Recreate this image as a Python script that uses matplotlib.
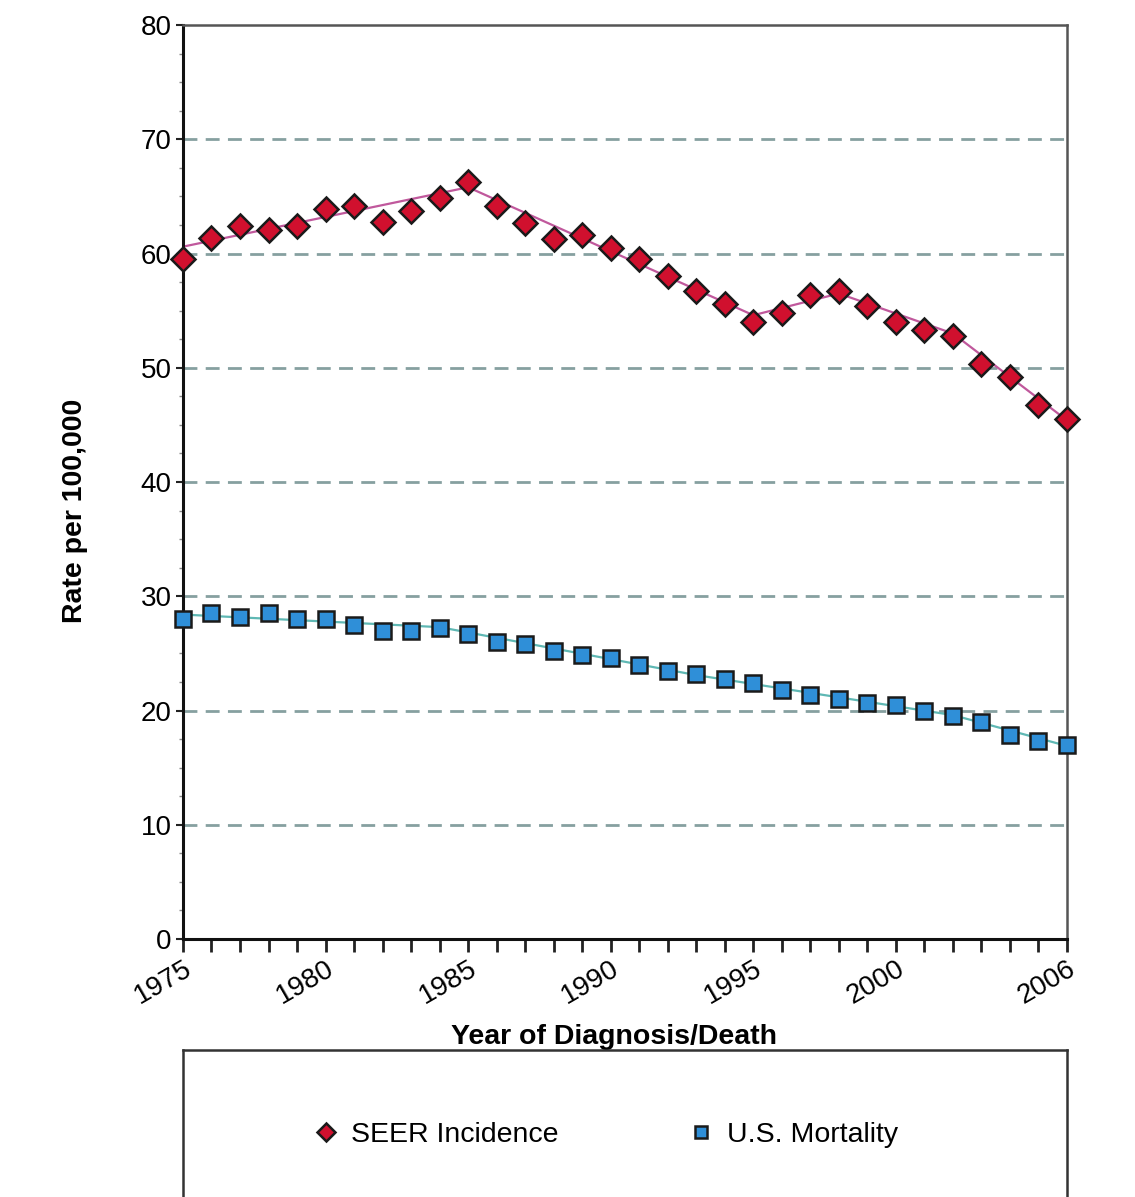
import numpy as np
import matplotlib.pyplot as plt
from matplotlib.ticker import MultipleLocator, FixedLocator, FixedFormatter

plt.rcParams['font.family'] = ['Liberation Sans', 'DejaVu Sans']

YEARS = list(range(1975, 2007))

# Observed rates per 100,000
SEER_INCIDENCE = [59.5, 61.4, 62.4, 62.1, 62.4, 63.9, 64.2, 62.8, 63.7, 64.9,
                  66.3, 64.2, 62.7, 61.3, 61.6, 60.5, 59.5, 58.0, 56.7, 55.6,
                  54.0, 54.8, 56.4, 56.7, 55.4, 54.0, 53.3, 52.8, 50.3, 49.2,
                  46.7, 45.5]
US_MORTALITY = [28.0, 28.5, 28.2, 28.5, 28.0, 28.0, 27.5, 27.0, 27.0, 27.2,
                26.7, 26.0, 25.8, 25.2, 24.9, 24.6, 24.0, 23.5, 23.2, 22.8,
                22.4, 21.8, 21.4, 21.0, 20.7, 20.5, 20.0, 19.5, 19.0, 17.9,
                17.3, 17.0]

# Joinpoint trend lines (year, fitted rate)
INC_TREND_YEARS = [1975, 1985, 1995, 1998, 2002, 2006]
INC_TREND_RATES = [60.6, 65.8, 54.6, 56.5, 53.0, 45.4]
MORT_TREND_YEARS = [1975, 1984, 1993, 2002, 2006]
MORT_TREND_RATES = [28.4, 27.3, 23.1, 19.6, 16.9]

LABELED_YEARS = [1975, 1980, 1985, 1990, 1995, 2000, 2006]

fig = plt.figure(figsize=(11.35, 11.97), dpi=100)
ax = fig.add_axes([0.1612, 0.2155, 0.7789, 0.7636])

for y in range(10, 80, 10):
    ax.axhline(y, color='#86a0a0', lw=2, dashes=(5, 3), zorder=1)

ax.plot(INC_TREND_YEARS, INC_TREND_RATES, color='#c0589c', lw=1.6, zorder=2)
ax.plot(MORT_TREND_YEARS, MORT_TREND_RATES, color='#5fb8b4', lw=1.6, zorder=2)

ax.plot(YEARS, SEER_INCIDENCE, ls='none', marker='D', ms=12,
        mfc='#d0102e', mec='#1a1a1a', mew=1.8, zorder=3, clip_on=False,
        label='SEER Incidence')
ax.plot(YEARS, US_MORTALITY, ls='none', marker='s', ms=12,
        mfc='#2f8fd8', mec='#1a1a1a', mew=1.8, zorder=3, clip_on=False,
        label='U.S. Mortality')

ax.set_xlim(1975, 2006)
ax.set_ylim(0, 80)

ax.xaxis.set_major_locator(FixedLocator(YEARS))
ax.xaxis.set_major_formatter(FixedFormatter(
    [str(y) if y in LABELED_YEARS else '' for y in YEARS]))
ax.yaxis.set_major_locator(MultipleLocator(10))
ax.yaxis.set_minor_locator(MultipleLocator(2.5))

ax.tick_params(axis='x', which='major', direction='out', length=9, width=2,
               color='#222222', labelsize=20, pad=3)
ax.tick_params(axis='y', which='major', direction='out', length=5, width=1.5,
               color='#222222', labelsize=20, pad=3)
ax.tick_params(axis='y', which='minor', direction='out', length=3, width=1,
               color='#888888')
for lbl in ax.get_xticklabels():
    lbl.set_rotation(30)
    lbl.set_ha('right')
    lbl.set_va('top')
    lbl.set_rotation_mode('anchor')

for side in ('left', 'bottom'):
    ax.spines[side].set_color('#111111')
    ax.spines[side].set_linewidth(2.2)
for side in ('right', 'top'):
    ax.spines[side].set_color('#555555')
    ax.spines[side].set_linewidth(1.8)

ax.set_ylabel('Rate per 100,000', fontsize=20.5, fontweight='bold')
ax.yaxis.set_label_coords(-0.107, 0.468)
ax.set_xlabel('Year of Diagnosis/Death', fontsize=20.5, fontweight='bold')
ax.xaxis.set_label_coords(0.4876, -0.093)

# Legend panel below the plot, running past the bottom edge
lax = fig.add_axes([0.1612, -0.05, 0.7789, 0.1728])
lax.set_xticks([])
lax.set_yticks([])
for side in lax.spines.values():
    side.set_color('#333333')
    side.set_linewidth(1.8)
handles, labels = ax.get_legend_handles_labels()
leg = lax.legend(handles, labels, loc='upper center', bbox_to_anchor=(0.477, 0.775),
                 ncol=2, frameon=False, fontsize=20.5, columnspacing=4.5,
                 handletextpad=0.4, handlelength=1.0, markerscale=0.75)

fig.savefig('out.png', dpi=100)
